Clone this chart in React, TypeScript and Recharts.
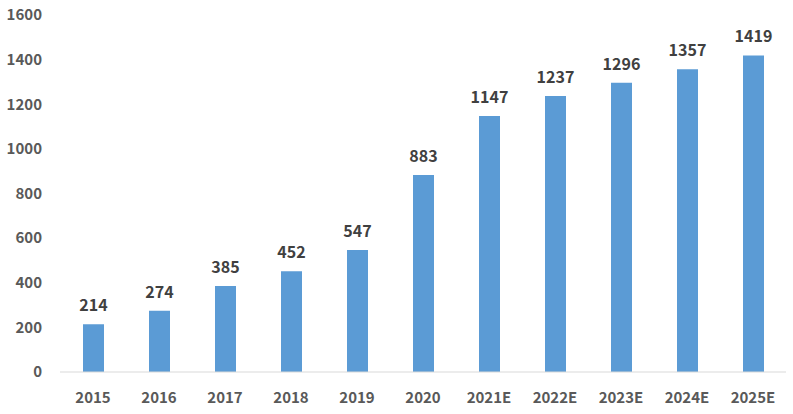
import React from "react";
import { BarChart, Bar, XAxis, YAxis, LabelList } from "recharts";

const years = ["2015", "2016", "2017", "2018", "2019", "2020", "2021E", "2022E", "2023E", "2024E", "2025E"];
const values = [214, 274, 385, 452, 547, 883, 1147, 1237, 1296, 1357, 1419];
const yTicks = [0, 200, 400, 600, 800, 1000, 1200, 1400, 1600];

const data = years.map((year, i) => ({ year, value: values[i] }));

const font = '"Noto Sans CJK SC", "Open Sans", sans-serif';

export default function App() {
  return (
    <div style={{ position: "absolute", left: 0, top: 0, background: "#fff" }}>
      <BarChart
        width={793}
        height={414}
        data={data}
        margin={{ top: 15, right: 7, bottom: 12, left: 0 }}
        barCategoryGap={0}
      >
        <XAxis
          dataKey="year"
          height={30}
          tickLine={false}
          axisLine={{ stroke: "#d9d9d9" }}
          tick={{ fill: "#595959", fontSize: 15, fontWeight: 700, fontFamily: font }}
          tickMargin={14}
        />
        <YAxis
          width={60}
          domain={[0, 1600]}
          ticks={yTicks}
          tickLine={false}
          axisLine={false}
          tick={{ fill: "#595959", fontSize: 15, fontWeight: 700, fontFamily: font }}
          tickMargin={12}
        />
        <Bar dataKey="value" fill="#5b9bd5" barSize={21} isAnimationActive={false}>
          <LabelList
            dataKey="value"
            position="top"
            offset={13}
            fill="#404040"
            fontSize={16}
            fontWeight={700}
            fontFamily={font}
          />
        </Bar>
      </BarChart>
    </div>
  );
}
